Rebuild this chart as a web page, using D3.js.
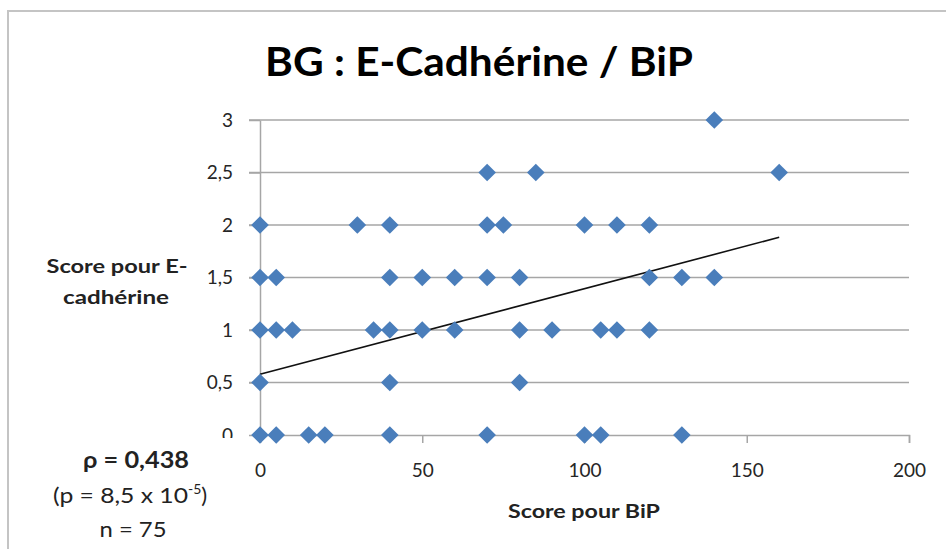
<!DOCTYPE html>
<html>
<head>
<meta charset="utf-8">
<script src="https://cdn.jsdelivr.net/npm/d3@7/dist/d3.min.js"></script>
<style>
  html, body { margin: 0; padding: 0; background: #fff; }
  svg { display: block; font-family: Lato, "Open Sans", sans-serif; }
</style>
</head>
<body>
<svg id="chart" width="946" height="549"></svg>
<script>
// ---- data ----
const chartTitle = "BG : E-Cadhérine / BiP";
const xTitle = "Score pour BiP";
const yTitleLines = ["Score pour E-", "cadhérine"];
const statLines = ["ρ = 0,438", "(p = 8,5 x 10", "n = 75"];

const bipScores = [
  140,
  70, 85, 160,
  0, 30, 40, 70, 75, 100, 110, 120,
  0, 5, 40, 50, 60, 70, 80, 120, 130, 140,
  0, 5, 10, 35, 40, 50, 60, 80, 90, 105, 110, 120,
  0, 40, 80,
  0, 5, 15, 20, 40, 70, 100, 105, 130
];
const ecadScores = [
  3,
  2.5, 2.5, 2.5,
  2, 2, 2, 2, 2, 2, 2, 2,
  1.5, 1.5, 1.5, 1.5, 1.5, 1.5, 1.5, 1.5, 1.5, 1.5,
  1, 1, 1, 1, 1, 1, 1, 1, 1, 1, 1, 1,
  0.5, 0.5, 0.5,
  0, 0, 0, 0, 0, 0, 0, 0, 0
];
const trendX = [0, 160];
const trendY = [0.578, 1.883];

const xTicks = [0, 50, 100, 150, 200];
const yTicks = [0, 0.5, 1, 1.5, 2, 2.5, 3];
const yTickLabels = ["0", "0,5", "1", "1,5", "2", "2,5", "3"];

// ---- drawing ----
const svg = d3.select("#chart");
const x = d3.scaleLinear().domain([0, 200]).range([260, 909]);
const y = d3.scaleLinear().domain([0, 3]).range([435, 120]);
const gridColor = "#a6a6a6";

// outer frame (top + left edges visible)
svg.append("path")
  .attr("d", "M8,549V11H946")
  .attr("fill", "none")
  .attr("stroke", "#c4c4c4")
  .attr("stroke-width", 2);

// title
svg.append("text")
  .attr("x", 479).attr("y", 76)
  .attr("text-anchor", "middle")
  .attr("font-size", 40).attr("font-weight", 700)
  .attr("fill", "#000")
  .attr("textLength", 428).attr("lengthAdjust", "spacingAndGlyphs")
  .text(chartTitle);

// gridlines
svg.append("g").selectAll("line")
  .data(yTicks.filter(d => d > 0))
  .join("line")
  .attr("x1", x(0) - 11).attr("x2", x(200))
  .attr("y1", d => y(d)).attr("y2", d => y(d))
  .attr("stroke", gridColor).attr("stroke-width", 1.5);

// clip for the y axis (the "0" label is cut at the bottom in the reference)
svg.append("clipPath").attr("id", "yclip")
  .append("rect").attr("x", -260).attr("y", 0).attr("width", 272).attr("height", 438);

// y axis
const yAxis = svg.append("g")
  .attr("transform", `translate(${x(0)},0)`)
  .attr("clip-path", "url(#yclip)")
  .call(d3.axisLeft(y).tickValues(yTicks).tickSize(11).tickSizeOuter(0).tickPadding(16)
    .tickFormat((d, i) => yTickLabels[i]));
yAxis.select(".domain").attr("stroke", gridColor).attr("stroke-width", 1.5);
yAxis.selectAll(".tick line").attr("stroke", gridColor).attr("stroke-width", 1.5);
yAxis.selectAll(".tick text")
  .attr("font-size", 19).attr("fill", "#262626").attr("font-family", "Lato, sans-serif");

// x axis
const xAxis = svg.append("g")
  .attr("transform", `translate(0,${y(0)})`)
  .call(d3.axisBottom(x).tickValues(xTicks).tickSize(8).tickSizeOuter(8).tickFormat(d3.format("d")));
xAxis.select(".domain").attr("stroke", gridColor).attr("stroke-width", 1.5);
xAxis.selectAll(".tick line").attr("stroke", gridColor).attr("stroke-width", 1.5);
xAxis.selectAll(".tick text")
  .attr("y", 42).attr("dy", 0)
  .attr("font-size", 19).attr("fill", "#262626").attr("font-family", "Lato, sans-serif");

// trend line
svg.append("line")
  .attr("x1", x(trendX[0])).attr("y1", y(trendY[0]))
  .attr("x2", x(trendX[1])).attr("y2", y(trendY[1]))
  .attr("stroke", "#111").attr("stroke-width", 1.6);

// markers (diamonds)
const diamond = d3.symbol().type(d3.symbolSquare).size(155);
svg.append("g").selectAll("path")
  .data(bipScores.map((b, i) => ({ b, e: ecadScores[i] })))
  .join("path")
  .attr("d", diamond)
  .attr("transform", d => `translate(${x(d.b)},${y(d.e)}) rotate(45)`)
  .attr("fill", "#4a7ebb");

// axis titles
svg.append("text")
  .attr("x", 584).attr("y", 518)
  .attr("text-anchor", "middle")
  .attr("font-size", 18).attr("font-weight", 700).attr("fill", "#222")
  .attr("textLength", 152).attr("lengthAdjust", "spacingAndGlyphs")
  .text(xTitle);

const yt = svg.append("g");
yt.append("text").attr("x", 117).attr("y", 273)
  .attr("text-anchor", "middle")
  .attr("font-size", 18).attr("font-weight", 700).attr("fill", "#222")
  .attr("textLength", 141).attr("lengthAdjust", "spacingAndGlyphs")
  .text(yTitleLines[0]);
yt.append("text").attr("x", 116).attr("y", 304)
  .attr("text-anchor", "middle")
  .attr("font-size", 18).attr("font-weight", 700).attr("fill", "#222")
  .attr("textLength", 106).attr("lengthAdjust", "spacingAndGlyphs")
  .text(yTitleLines[1]);

// statistics annotation
svg.append("text").attr("x", 136).attr("y", 468)
  .attr("text-anchor", "middle")
  .attr("font-size", 22).attr("font-weight", 700).attr("fill", "#222")
  .attr("textLength", 106).attr("lengthAdjust", "spacingAndGlyphs")
  .text(statLines[0]);
const pLine = svg.append("text").attr("x", 53).attr("y", 503)
  .attr("text-anchor", "start")
  .attr("font-size", 22).attr("fill", "#222");
pLine.append("tspan").attr("textLength", 135).attr("lengthAdjust", "spacingAndGlyphs").text(statLines[1]);
pLine.append("tspan").attr("dy", -9).attr("font-size", 14).text("-5");
pLine.append("tspan").attr("dy", 9).text(")");
svg.append("text").attr("x", 133).attr("y", 537)
  .attr("text-anchor", "middle")
  .attr("font-size", 22).attr("fill", "#222")
  .attr("textLength", 67).attr("lengthAdjust", "spacingAndGlyphs")
  .text(statLines[2]);
</script>
</body>
</html>
